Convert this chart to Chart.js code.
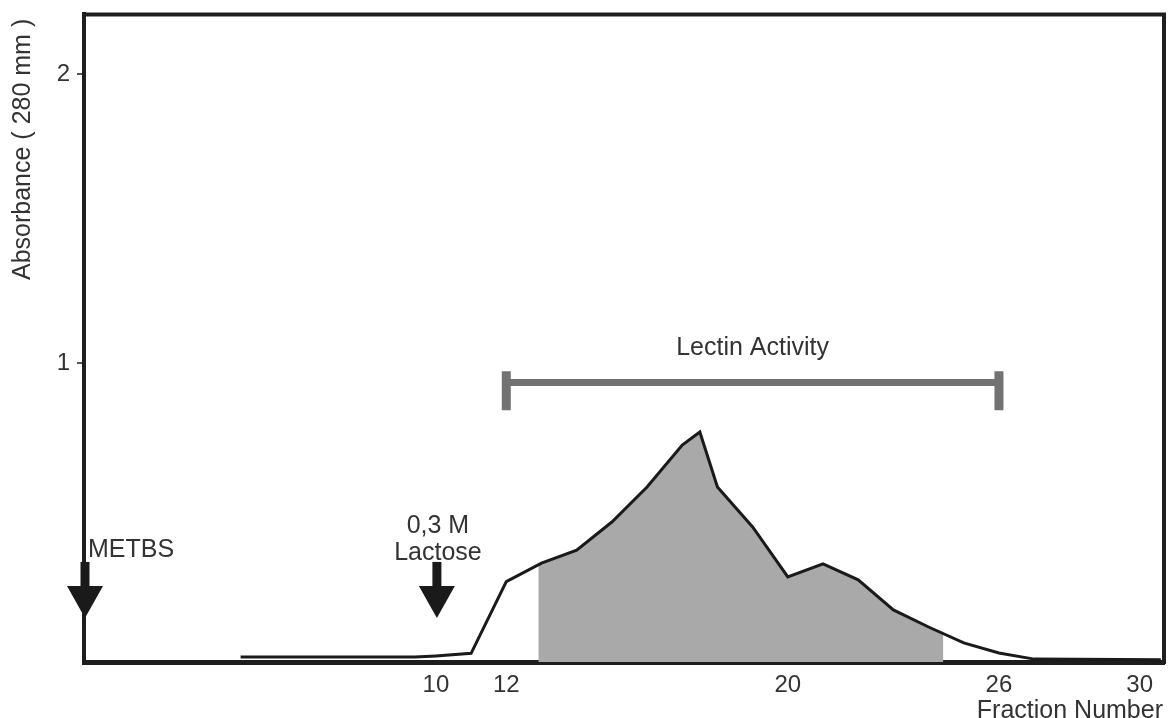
<!DOCTYPE html>
<html>
<head>
<meta charset="utf-8">
<script src="https://cdn.jsdelivr.net/npm/chart.js@4.4.1/dist/chart.umd.min.js"></script>
<style>
  html, body { margin: 0; padding: 0; background: #ffffff; }
  #wrap { position: relative; width: 1169px; height: 718px; }
</style>
</head>
<body>
<div id="wrap"><canvas id="c" width="1169" height="718"></canvas></div>
<script>
// ---- data ----
const fractions  = [4.45, 9.4, 10, 11, 12, 13, 14, 15, 16, 17, 17.5, 18, 19, 20, 21, 22, 23, 24, 25, 26, 27, 30.6];
const absorbance = [-0.016, -0.016, -0.012, -0.003, 0.245, 0.309, 0.354, 0.451, 0.572, 0.717, 0.762, 0.572, 0.434, 0.261, 0.306, 0.251, 0.147, 0.088, 0.033, -0.002, -0.023, -0.025];

// shaded (lectin-active) region edges
const shadeStart = [12.91, 0.303];
const shadeEnd   = [24.42, 0.062];

const xTickValues = [10, 12, 20, 26, 30];
const yTickValues = [1, 2];

const lectinRange = [12, 26];
const lectinLevel = 0.933;
const lectinCapLevel = 0.905;
const lectinLabel = 'Lectin Activity';

const markerFractions = [0, 10];
const markerLabels = [['METBS'], ['0,3 M', 'Lactose']];
const arrowTop = 0.313, arrowBase = 0.230, arrowTip = 0.119;

const xTitle = 'Fraction Number';
const yTitle = 'Absorbance ( 280 mm )';

// ---- derived datasets ----
const curvePts = fractions.map((f, i) => ({x: f, y: absorbance[i]}));
const shadePts = [{x: shadeStart[0], y: shadeStart[1]}]
  .concat(curvePts.filter(p => p.x > shadeStart[0] && p.x < shadeEnd[0]))
  .concat([{x: shadeEnd[0], y: shadeEnd[1]}]);
const lectinPts = lectinRange.map(f => ({x: f, y: lectinLevel}));
const capPts = lectinRange.map(f => ({x: f, y: lectinCapLevel}));

const FONT = '"Liberation Sans", Arial, Helvetica, sans-serif';
const TXT = '#333333';
const LABEL_SIZE = 25;
Chart.defaults.font.family = FONT;
Chart.defaults.font.size = 24;
Chart.defaults.color = TXT;

const overlay = {
  id: 'overlay',
  afterDatasetsDraw(chart) {
    const {ctx, chartArea: a, scales: {x, y}} = chart;
    ctx.save();
    // top and right frame
    ctx.strokeStyle = '#1e1e1e';
    ctx.lineWidth = 4;
    ctx.beginPath();
    ctx.moveTo(a.left - 2, a.top);
    ctx.lineTo(a.right, a.top);
    ctx.lineTo(a.right, a.bottom + 2);
    ctx.stroke();

    // arrows
    ctx.fillStyle = '#1a1a1a';
    markerFractions.forEach(f => {
      const px = x.getPixelForValue(f) + 1;
      const t = y.getPixelForValue(arrowTop);
      const b = y.getPixelForValue(arrowBase);
      const tip = y.getPixelForValue(arrowTip);
      ctx.fillRect(px - 4.5, t, 9, b - t + 1);
      ctx.beginPath();
      ctx.moveTo(px - 18, b);
      ctx.lineTo(px + 18, b);
      ctx.lineTo(px, tip);
      ctx.closePath();
      ctx.fill();
    });

    // texts
    ctx.fillStyle = TXT;
    ctx.font = LABEL_SIZE + 'px ' + FONT;
    ctx.textBaseline = 'middle';
    // METBS
    ctx.textAlign = 'left';
    ctx.fillText(markerLabels[0][0], x.getPixelForValue(markerFractions[0]) + 4, y.getPixelForValue(0.354));
    // 0,3 M Lactose
    ctx.textAlign = 'center';
    const lx = x.getPixelForValue(markerFractions[1]) + 2;
    ctx.fillText(markerLabels[1][0], lx, y.getPixelForValue(0.437));
    ctx.fillText(markerLabels[1][1], lx, y.getPixelForValue(0.344));
    // Lectin Activity
    ctx.fillText(lectinLabel, x.getPixelForValue((lectinRange[0] + lectinRange[1]) / 2), y.getPixelForValue(1.052));
    // x title
    ctx.textAlign = 'right';
    ctx.fillText(xTitle, a.right - 1, a.bottom + 49);
    // y title
    ctx.translate(23, a.top + 135);
    ctx.rotate(-Math.PI / 2);
    ctx.textAlign = 'center';
    ctx.fillText(yTitle, 0, 0);
    ctx.restore();
  }
};

new Chart(document.getElementById('c'), {
  type: 'line',
  data: {
    datasets: [
      {
        label: 'Absorbance',
        data: curvePts,
        borderColor: '#1a1a1a',
        borderWidth: 3,
        pointRadius: 0,
        tension: 0,
        fill: false,
        order: 1
      },
      {
        label: 'Lectin activity',
        data: lectinPts,
        borderColor: '#727272',
        borderWidth: 7,
        pointRadius: 0,
        fill: false,
        order: 2
      },
      {
        label: 'Lectin caps',
        data: capPts,
        showLine: false,
        pointStyle: 'line',
        pointRotation: 90,
        pointRadius: 19.5,
        pointBorderWidth: 9,
        pointBorderColor: '#727272',
        pointBackgroundColor: '#727272',
        order: 3
      },
      {
        label: 'Shaded',
        data: shadePts,
        borderWidth: 0,
        borderColor: 'rgba(0,0,0,0)',
        backgroundColor: '#a9a9a9',
        pointRadius: 0,
        tension: 0,
        fill: 'start',
        order: 4
      }
    ]
  },
  options: {
    responsive: false,
    animation: false,
    events: [],
    layout: { autoPadding: false, padding: { left: 0, top: 14, right: 5, bottom: 0 } },
    plugins: { legend: { display: false }, tooltip: { enabled: false } },
    scales: {
      x: {
        type: 'linear',
        min: 0,
        max: 30.69,
        afterFit: s => { s.height = 56; },
        afterBuildTicks: s => { s.ticks = xTickValues.map(v => ({value: v})); },
        grid: { display: false, drawTicks: false },
        border: { display: true, color: '#1e1e1e', width: 5 },
        ticks: { padding: 9, color: TXT, font: { size: 24 }, maxRotation: 0, autoSkip: false }
      },
      y: {
        type: 'linear',
        min: -0.033,
        max: 2.206,
        afterFit: s => { s.width = 84; },
        afterBuildTicks: s => { s.ticks = yTickValues.map(v => ({value: v})); },
        grid: { display: true, drawOnChartArea: false, drawTicks: true, tickLength: 14, tickBorderDash: [0, 7, 6, 100], tickColor: '#555555', lineWidth: 2 },
        border: { display: true, color: '#1e1e1e', width: 4 },
        ticks: { padding: 0, color: TXT, font: { size: 24 } }
      }
    }
  },
  plugins: [overlay]
});
</script>
</body>
</html>
